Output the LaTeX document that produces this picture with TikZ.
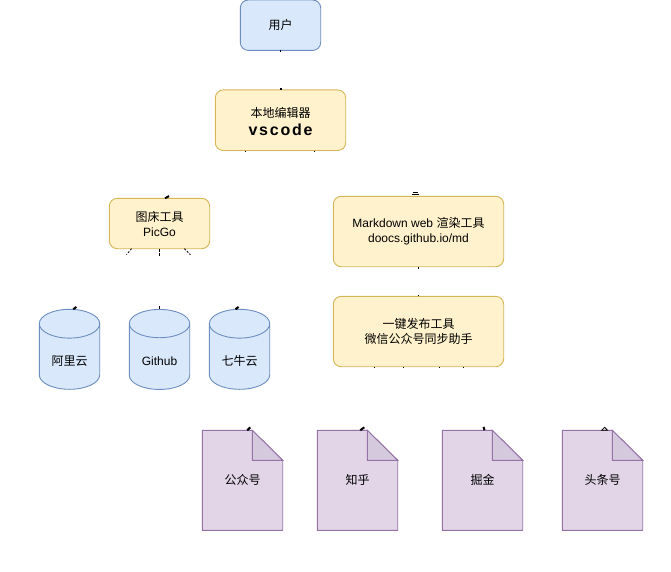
\documentclass[tikz,border=0pt]{standalone}
\usepackage{fontspec}
\setmainfont{Liberation Sans}
\newfontfamily\cjk{Noto Sans CJK SC}
\newfontfamily\vsfont[LetterSpace=11]{Liberation Sans}
\usepackage{xcolor}
\definecolor{userblue}{HTML}{DAE8FC}
\definecolor{userline}{HTML}{6C8EBF}
\definecolor{toolyellow}{HTML}{FFF2CC}
\definecolor{toolline}{HTML}{D6B656}
\definecolor{docpurple}{HTML}{E1D5E7}
\definecolor{docline}{HTML}{9673A6}
\definecolor{docfold}{HTML}{D5C9DD}
\usetikzlibrary{shapes.geometric, positioning}

% text set lower without moving its node
\newcommand{\lowered}[2]{\raisebox{-#1}[\height][\depth]{#2}}

% page node plus its outline and turned corner
\newcommand{\docnode}[4]{%
    \node[docbox, #2] (#1) {{\cjk #3}};
    \draw[docedge, fill=docpurple] (#1.north west) -- ([xshift=#4]#1.north west) -- ([yshift=-30pt]#1.north east) -- (#1.south east) -- (#1.south west) -- cycle;
    \draw[docedge, fill=docfold] ([xshift=#4]#1.north west) -- ([yshift=-30pt]#1.north east) -- ([xshift=#4, yshift=-30pt]#1.north west) -- cycle;
    \node[docbox] at (#1) {{\cjk #3}};
}

\begin{document}
\begin{tikzpicture}[
        font=\fontsize{12pt}{15pt}\selectfont,
        box/.style={rectangle, draw=userline, fill=userblue, minimum width=80.4pt,
                    minimum height=50.4pt, align=center, rounded corners=8pt,
                    outer sep=0pt, inner sep=0pt, line width=0.9pt},
        toolbox/.style={box, draw=toolline, fill=toolyellow},
        store/.style={cylinder, shape border rotate=90, aspect=0.8, draw=userline,
                    cylinder uses custom fill, cylinder body fill=userblue, cylinder end fill=userblue,
                    minimum width=60.4pt, minimum height=80pt, outer sep=0pt, inner sep=0pt, line width=0.9pt},
        docbox/.style={rectangle, minimum width=80.4pt, minimum height=100pt, outer sep=0pt, inner sep=0pt},
        docedge/.style={draw=docline, line width=0.9pt},
        speck/.style={black, line width=0.8pt},
        blob/.style={black, line width=2pt}
    ]
        \useasboundingbox (0,0) rectangle (671pt,-571pt);

        % Top of the stack
        \node[box] (user) at (280.5pt,-25.2pt) {{\cjk 用户}};
        \node[toolbox, below=39.5pt of user, minimum width=130.4pt, minimum height=60.6pt, font=\fontsize{12pt}{18pt}\selectfont] (editor) {\lowered{1.5pt}{\cjk 本地编辑器}\\\lowered{1.5pt}{\fontsize{16pt}{18pt}\selectfont\vsfont\bfseries vscode}};

        % Tools
        \node[toolbox, minimum width=100.4pt, anchor=north] (picgo) at (159.5pt,-198.3pt) {{\cjk 图床工具}\\PicGo};
        \node[toolbox, minimum width=170.4pt, minimum height=70.4pt, anchor=north] (render) at (418.5pt,-196.3pt) {Markdown web {\cjk 渲染工具}\\doocs.github.io/md};
        \node[toolbox, below=29.6pt of render, minimum width=170.4pt, minimum height=70.4pt] (publish) {{\cjk 一键发布工具}\\{\cjk 微信公众号同步助手}};

        % Image hosts
        \node[store, anchor=north] (aliyun) at (69.5pt,-309.3pt) {\lowered{4pt}{\cjk 阿里云}};
        \node[store, right=29.6pt of aliyun] (github) {\lowered{4pt}{Github}};
        \node[store, right=19.6pt of github] (qiniu) {\lowered{4pt}{\cjk 七牛云}};

        % Platforms
        \docnode{gzh}{anchor=north west, at={(202.3pt,-430.3pt)}}{公众号}{50pt}
        \docnode{zhihu}{right=34.6pt of gzh}{知乎}{50pt}
        \docnode{juejin}{right=44.6pt of zhihu}{掘金}{50pt}
        \docnode{toutiao}{right=39.6pt of juejin}{头条号}{50pt}

        % What shows of the connectors
        \draw[speck] (user.south) -- ++(0,-2pt);
        \draw[blob] (editor.north) -- ++(0,2.2pt);
        \draw[speck] ([xshift=-34.8pt]editor.south) -- ++(0,-1.6pt);
        \draw[speck] ([xshift=34.2pt]editor.south) -- ++(0,-1.6pt);
        \draw[blob] ([xshift=5.5pt]picgo.north) -- ++(4pt,2.2pt);
        \draw[speck] ([xshift=-5.5pt,yshift=3.6pt]render.north) -- ++(5pt,0);
        \draw[speck] ([xshift=-6.5pt,yshift=1.6pt]render.north) -- ++(7pt,0);
        \draw[speck, dashed, dash pattern=on 2pt off 1.5pt] ([xshift=-28pt]picgo.south) -- ++(-5pt,-6pt);
        \draw[speck, dashed, dash pattern=on 3pt off 1.5pt] (picgo.south) -- ++(0,-8pt);
        \draw[speck, dashed, dash pattern=on 2pt off 1.5pt] ([xshift=25pt]picgo.south) -- ++(6pt,-6pt);
        \draw[blob] ([xshift=3.8pt]aliyun.north) -- ++(3pt,2.4pt);
        \draw[speck] ([xshift=-0.3pt]github.north) -- ++(0,3.6pt);
        \draw[blob] ([xshift=-4pt]qiniu.north) -- ++(3pt,2.4pt);
        \draw[speck] (render.south) -- ++(0,-2pt);
        \draw[speck] (publish.north) -- ++(0,1pt);
        \draw[speck] ([xshift=-44.5pt]publish.south) -- ++(0,-1.6pt);
        \draw[speck] ([xshift=-15pt]publish.south) -- ++(0,-1.6pt);
        \draw[speck] ([xshift=20.5pt]publish.south) -- ++(0,-1.6pt);
        \draw[speck] ([xshift=44.8pt]publish.south) -- ++(0,-1.6pt);
        \draw[blob] ([xshift=4.8pt]gzh.north) -- ++(3pt,3pt);
        \draw[blob] ([xshift=2.8pt]zhihu.north) -- ++(4pt,3pt);
        \draw[blob] ([xshift=2pt]juejin.north) -- ++(-1pt,3.4pt);
        \draw[speck] ([xshift=-1pt]toutiao.north) -- ++(6pt,0) -- ++(-3pt,3pt) -- cycle;
    \end{tikzpicture}
\end{document}
